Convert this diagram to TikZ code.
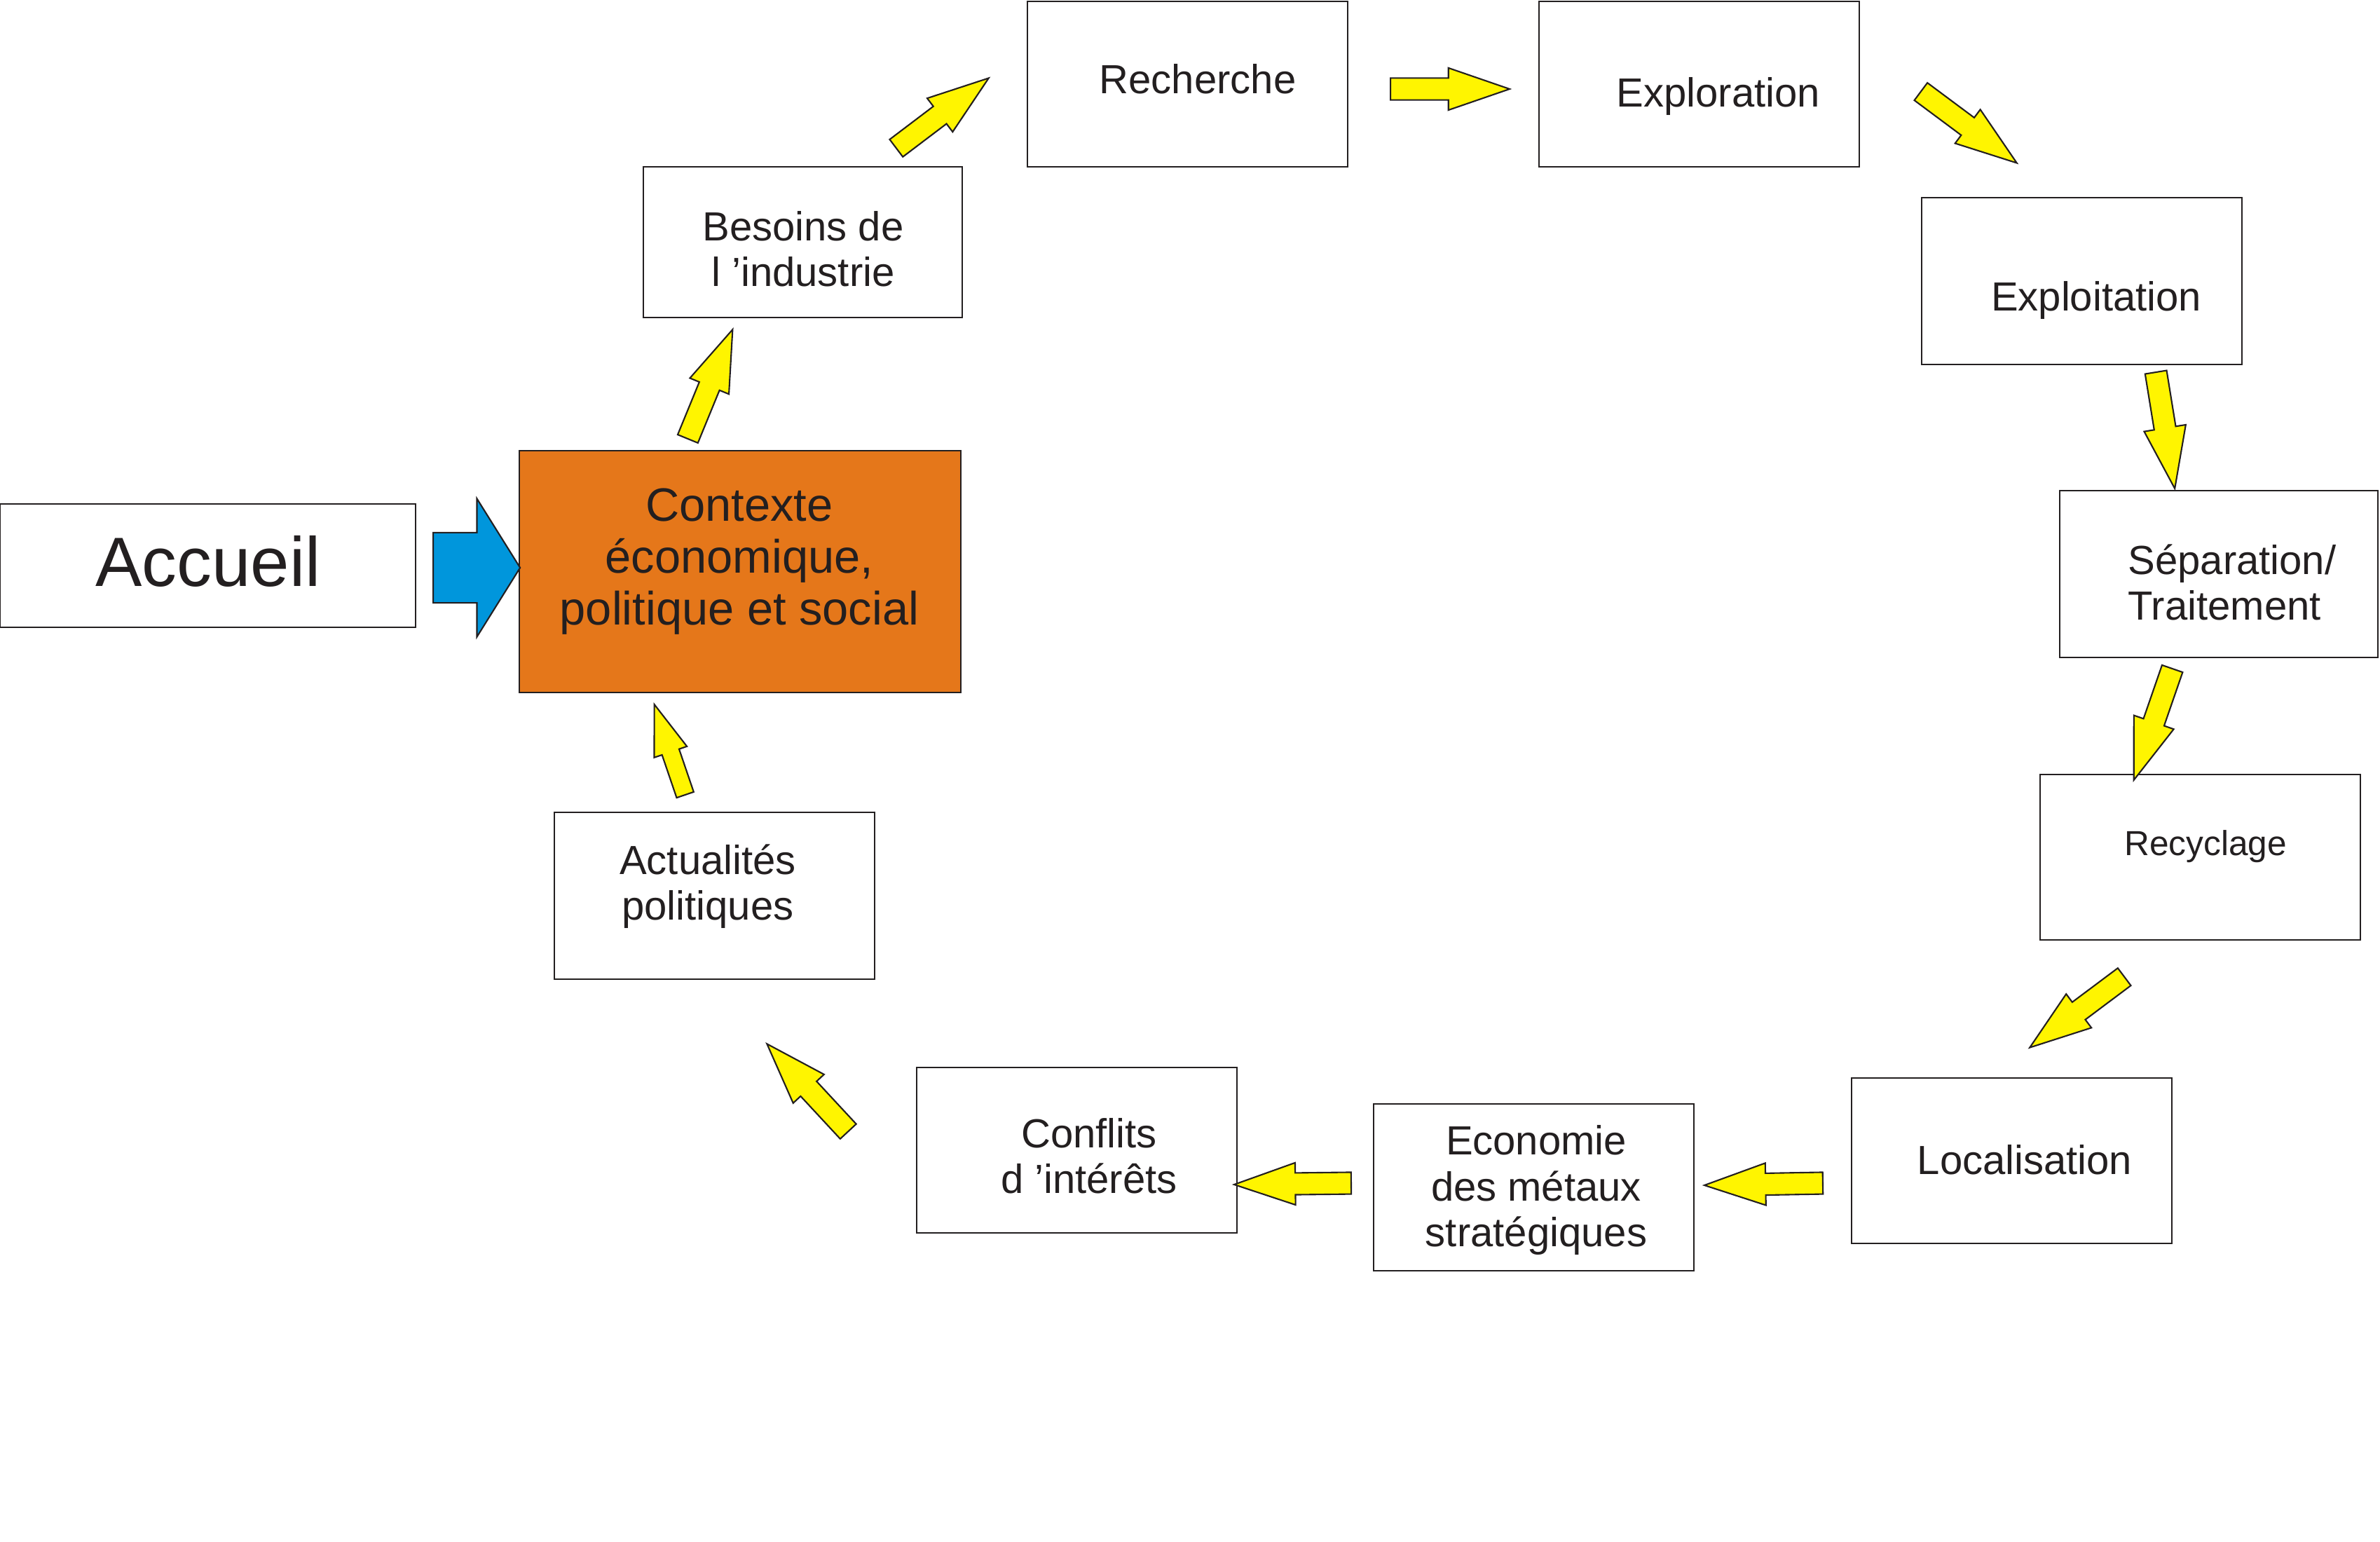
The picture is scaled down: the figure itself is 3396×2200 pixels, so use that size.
\documentclass[tikz,border=0pt]{standalone}
\usepackage{fontspec}
\setmainfont{Liberation Sans}
\usepackage{tikz}
\usetikzlibrary{shapes.arrows,calc}

\definecolor{encre}{HTML}{231F20}
\definecolor{orangeC}{HTML}{E5771A}
\definecolor{jauneF}{HTML}{FFF500}
\definecolor{bleuF}{HTML}{0096DC}

% fleche jaune entre deux points : [style]{nom}{depart}{pointe}
\newcommand{\fleche}[4][]{%
  \path let \p1=#3, \p2=#4,
    \n1={atan2(\y2-\y1,\x2-\x1)}, \n2={veclen(\x2-\x1,\y2-\y1)} in
    node[jaune, #1, rotate=\n1, minimum height=\n2, anchor=tail] (#2) at #3 {};}

\begin{document}
\begin{tikzpicture}[x=0.01cm,y=-0.01cm]
\tikzstyle{every node} = [text=encre]
\tikzstyle{boite} = [draw=encre, line width=0.6pt, fill=white, inner sep=0pt]
\tikzstyle{texte} = [align=center, inner sep=0pt, font=\fontsize{16.5}{18.5}\selectfont]
\tikzstyle{jaune} = [single arrow, draw=encre, fill=jauneF, line width=0.6pt, inner xsep=0pt,
                     inner ysep=0.145cm, single arrow head extend=0.145cm, single arrow tip angle=38]
\tikzstyle{petite} = [inner ysep=0.118cm, single arrow head extend=0.118cm]

\useasboundingbox (0,0) rectangle (3396,2200);

% les cadres
\path (296.5,807) node[boite, minimum width=5.93cm, minimum height=1.76cm] (accueil) {}
      (1056,815.5) node[boite, fill=orangeC, minimum width=6.30cm, minimum height=3.45cm] (contexte) {}
      (1145.5,345.5) node[boite, minimum width=4.55cm, minimum height=2.15cm] (besoins) {}
      (1694.5,120) node[boite, minimum width=4.57cm, minimum height=2.36cm] (recherche) {}
      (2424.5,120) node[boite, minimum width=4.57cm, minimum height=2.36cm] (exploration) {}
      (2970.5,401) node[boite, minimum width=4.57cm, minimum height=2.38cm] (exploitation) {}
      (3166,819) node[boite, minimum width=4.54cm, minimum height=2.38cm] (separation) {}
      (3139.5,1223) node[boite, minimum width=4.57cm, minimum height=2.36cm] (recyclage) {}
      (2870.5,1656) node[boite, minimum width=4.57cm, minimum height=2.36cm] (localisation) {}
      (2188.5,1694) node[boite, minimum width=4.57cm, minimum height=2.38cm] (economie) {}
      (1536.5,1641) node[boite, minimum width=4.57cm, minimum height=2.36cm] (conflits) {}
      (1019.5,1278) node[boite, minimum width=4.57cm, minimum height=2.38cm] (actualites) {};

% les textes
\path (297,801) node[texte, font=\fontsize{28.3}{32}\selectfont] (t-accueil) {Accueil}
      (1055,801) node[texte, font=\fontsize{19}{21}\selectfont] (t-contexte) {Contexte\\économique,\\politique et social}
      (1146,355) node[texte] (t-besoins) {Besoins de\\l ’industrie}
      (1709,113) node[texte] (t-recherche) {Recherche}
      (2452,138) node[texte] (t-exploration) {Exploration}
      (2991,428) node[texte] (t-exploitation) {Exploitation}
      (3185,831) node[texte, align=left] (t-separation) {Séparation/\\Traitement}
      (3147,1208) node[texte, font=\fontsize{14.1}{16}\selectfont] (t-recyclage) {Recyclage}
      (2889,1655) node[texte] (t-localisation) {Localisation}
      (2192,1698) node[texte] (t-economie) {Economie\\des métaux\\stratégiques}
      (1554,1649) node[texte] (t-conflits) {Conflits\\d ’intérêts}
      (1010,1265) node[texte] (t-actualites) {Actualités\\politiques};

% fleche bleue
\path (617,810) node[single arrow, draw=encre, fill=bleuF, line width=0.6pt, inner xsep=0pt,
      inner ysep=0.49cm, minimum height=1.24cm, single arrow head extend=0.485cm,
      single arrow tip angle=116, anchor=tail] (entree) {};

% le cycle
\fleche{f1}{(981,627)}{(1045,471)}
\fleche{f2}{(1278,212)}{(1410,112)}
\fleche{f3}{(1983,127)}{(2153,127)}
\fleche{f4}{(2740,130)}{(2877,232)}
\fleche{f5}{(3076,530)}{(3103,696)}
\fleche{f6}{(3100,953)}{(3045,1112)}
\fleche{f7}{(3032,1393)}{(2897,1494)}
\fleche{f8}{(2602,1688)}{(2433,1691)}
\fleche{f9}{(1929,1688)}{(1762,1690)}
\fleche{f10}{(1211,1615)}{(1095,1490)}
\fleche[petite]{f11}{(978,1135)}{(934,1006)}
\end{tikzpicture}
\end{document}
